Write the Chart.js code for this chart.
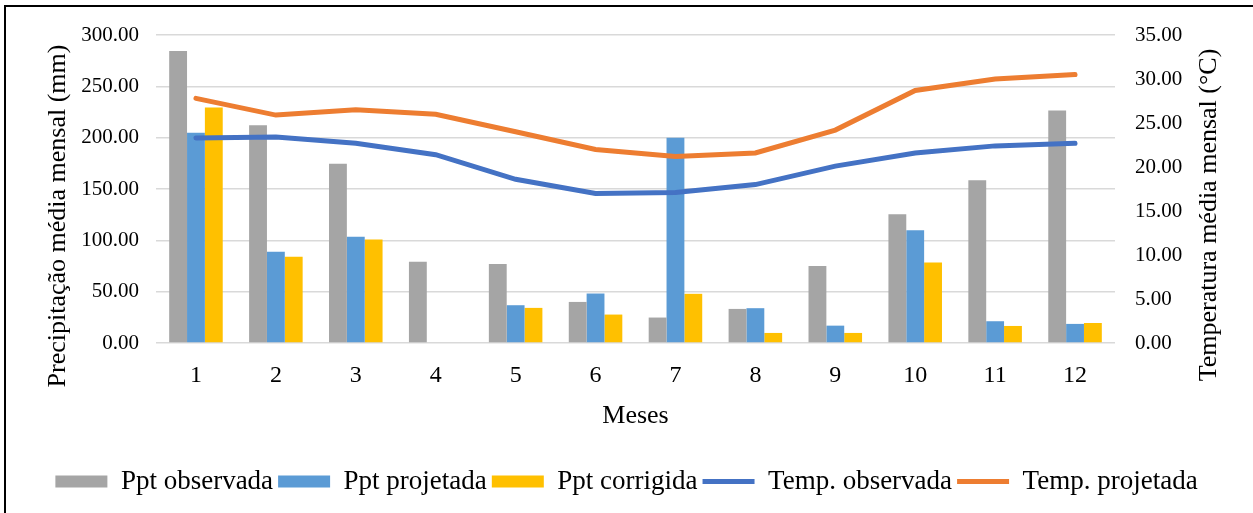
<!DOCTYPE html>
<html>
<head>
<meta charset="utf-8">
<script src="https://cdn.jsdelivr.net/npm/chart.js@4"></script>
<style>
  html, body { margin: 0; padding: 0; background: #fff; }
  #wrap { position: relative; width: 1253px; height: 513px; overflow: hidden; }
  #frame { position: absolute; left: 4px; top: 5px; width: 1400px; height: 700px;
           border-left: 2px solid #000; border-top: 2px solid #000; pointer-events: none; }
</style>
</head>
<body>
<div id="wrap">
  <canvas id="chart" width="1253" height="513"></canvas>
  <div id="frame"></div>
</div>
<script>
const months = ["1", "2", "3", "4", "5", "6", "7", "8", "9", "10", "11", "12"];
const pptObservada = [284.4, 212.0, 174.6, 79.2, 76.9, 40.0, 24.8, 33.2, 74.9, 125.4, 158.6, 226.4];
const pptProjetada = [204.9, 88.9, 103.6, 0, 36.8, 48.2, 200.0, 33.9, 16.9, 109.8, 21.2, 18.6];
const pptCorrigida = [229.4, 84.0, 100.7, 0, 34.2, 27.7, 47.9, 9.8, 9.8, 78.5, 16.6, 19.5];
const tempObservada = [23.3, 23.4, 22.7, 21.4, 18.6, 17.0, 17.1, 18.0, 20.1, 21.6, 22.4, 22.7];
const tempProjetada = [27.8, 25.9, 26.5, 26.0, 24.0, 22.0, 21.2, 21.6, 24.2, 28.7, 30.0, 30.5];

const leftTitle = "Precipitação média mensal (mm)";
const rightTitle = "Temperatura média mensal (°C)";
const serif = "'Liberation Serif', 'Times New Roman', serif";

Chart.defaults.font.family = serif;
Chart.defaults.color = "#000";

// axis titles drawn by hand so the right one reads bottom-to-top like the original
const axisTitles = {
  id: "axisTitles",
  afterDraw(chart) {
    const ctx = chart.ctx;
    const area = chart.chartArea;
    ctx.save();
    ctx.font = "26px " + serif;
    ctx.fillStyle = "#000";
    ctx.textAlign = "center";
    ctx.textBaseline = "middle";
    ctx.translate(chart.scales.y.left + 58, area.top + 181);
    ctx.rotate(-Math.PI / 2);
    ctx.fillText(leftTitle, 0, 0);
    ctx.restore();
    ctx.save();
    ctx.font = "26px " + serif;
    ctx.fillStyle = "#000";
    ctx.textAlign = "center";
    ctx.textBaseline = "middle";
    ctx.translate(area.right + 94, area.top + 180);
    ctx.rotate(-Math.PI / 2);
    ctx.fillText(rightTitle, 0, 0);
    ctx.restore();
  }
};

new Chart(document.getElementById("chart"), {
  type: "bar",
  data: {
    labels: months,
    datasets: [
      { label: "Ppt observada", data: pptObservada, backgroundColor: "#A5A5A5", yAxisID: "y", order: 1,
        categoryPercentage: 0.67, barPercentage: 1.0 },
      { label: "Ppt projetada", data: pptProjetada, backgroundColor: "#5B9BD5", yAxisID: "y", order: 1,
        categoryPercentage: 0.67, barPercentage: 1.0 },
      { label: "Ppt corrigida", data: pptCorrigida, backgroundColor: "#FFC000", yAxisID: "y", order: 1,
        categoryPercentage: 0.67, barPercentage: 1.0 },
      { type: "line", label: "Temp. observada", data: tempObservada, borderColor: "#4472C4",
        backgroundColor: "#4472C4", borderWidth: 5, pointRadius: 0, tension: 0,
        borderCapStyle: "round", yAxisID: "y1", order: 0 },
      { type: "line", label: "Temp. projetada", data: tempProjetada, borderColor: "#ED7D31",
        backgroundColor: "#ED7D31", borderWidth: 5, pointRadius: 0, tension: 0,
        borderCapStyle: "round", yAxisID: "y1", order: 0 }
    ]
  },
  options: {
    responsive: false,
    animation: false,
    layout: { padding: { left: 0, right: 0, top: 35, bottom: 8 } },
    plugins: {
      tooltip: { enabled: false },
      legend: {
        position: "bottom",
        labels: {
          font: { family: serif, size: 27 },
          color: "#000",
          usePointStyle: true,
          pointStyleWidth: 52,
          boxHeight: 12,
          padding: 5,
          sort: (a, b) => a.datasetIndex - b.datasetIndex,
          generateLabels(chart) {
            const items = Chart.defaults.plugins.legend.labels.generateLabels(chart);
            items.forEach(it => {
              const ds = chart.data.datasets[it.datasetIndex];
              it.pointStyle = ds.type === "line" ? "line" : "rect";
              if (ds.type !== "line") it.lineWidth = 0;
            });
            return items;
          }
        }
      }
    },
    scales: {
      x: {
        grid: { display: false },
        border: { display: false },
        ticks: { font: { family: serif, size: 24 }, color: "#000", padding: 10 },
        title: { display: true, text: "Meses", font: { family: serif, size: 26 }, color: "#000",
                 padding: { top: 0, bottom: 31 } },
        afterFit(scale) { scale.height = 120; }
      },
      y: {
        position: "left",
        min: 0, max: 300,
        ticks: { stepSize: 50, font: { family: serif, size: 21 }, color: "#000", padding: 17,
                 callback: v => v.toFixed(2) },
        grid: { color: "#D9D9D9", lineWidth: 1.5, drawTicks: false },
        border: { display: false },
        afterFit(scale) { scale.width = 156; }
      },
      y1: {
        position: "right",
        min: 0, max: 35,
        ticks: { stepSize: 5, font: { family: serif, size: 21 }, color: "#000", padding: 20,
                 callback: v => v.toFixed(2) },
        grid: { display: false, drawTicks: false },
        border: { display: false },
        afterFit(scale) { scale.width = 138; }
      }
    }
  },
  plugins: [axisTitles]
});
</script>
</body>
</html>
